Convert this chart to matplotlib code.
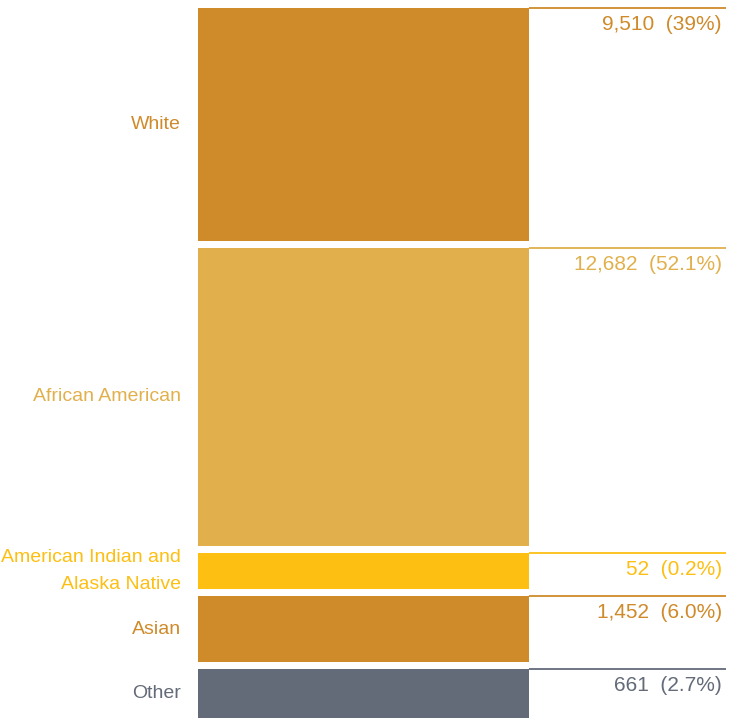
import numpy as np
import matplotlib.pyplot as plt

categories = ["White", "African American", "American Indian and\nAlaska Native", "Asian", "Other"]
counts = [9510, 12682, 52, 1452, 661]
percents = ["39%", "52.1%", "0.2%", "6.0%", "2.7%"]
colors = ["#CF8A2A", "#E1B04D", "#FCBF12", "#CF8A2A", "#636A78"]

plt.rcParams['font.family'] = ['Liberation Sans', 'DejaVu Sans']

# small groups get a minimum visual share so the labels fit
total = sum(counts)
pad = 0.07 * total
heights = [c + pad for c in counts]
gap = 0.0103 * sum(heights)

fig = plt.figure(figsize=(7.29, 7.19), dpi=100)
ax = fig.add_axes([0, 0, 1, 1])
ax.set_xlim(0, 729)

tops = []
y = 0
for h in heights:
    tops.append(y)
    y += h + gap
span = y - gap
px = span / 710.0
ax.set_ylim(span + 1 * px, -8 * px)

bar_left, bar_right = 198, 529
ax.barh(tops, [bar_right - bar_left] * len(tops), height=heights, left=bar_left,
        align='edge', color=colors)

for cat, cnt, pct, col, top, h in zip(categories, counts, percents, colors, tops, heights):
    ax.plot([bar_right, 726], [top, top], color=col, lw=1.3, solid_capstyle='butt')
    ax.annotate(f"{cnt:,}  ({pct})", (722, top), xytext=(0, -5), textcoords='offset points',
                ha='right', va='top', color=col, fontsize=15)
    ax.text(181, top + h / 2, cat, ha='right', va='center', color=col, fontsize=14,
            linespacing=1.75)

ax.axis('off')
fig.savefig("out.png", dpi=100)
